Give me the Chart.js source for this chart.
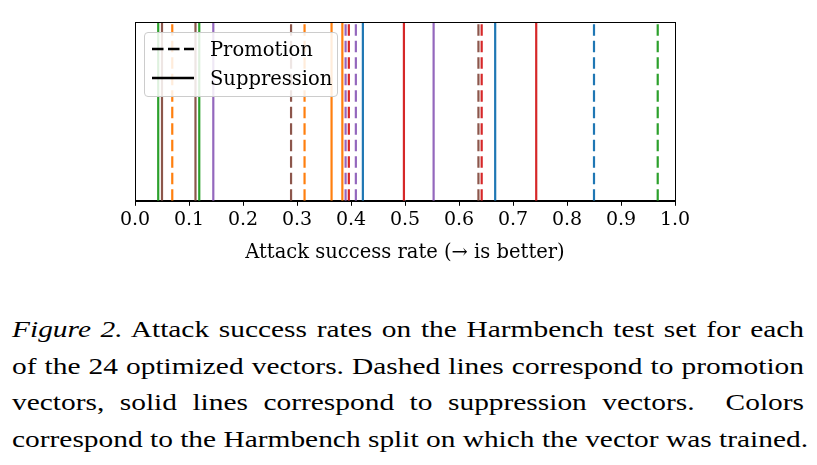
<!DOCTYPE html>
<html>
<head>
<meta charset="utf-8">
<script src="https://cdn.jsdelivr.net/npm/chart.js@4/dist/chart.umd.min.js"></script>
<style>
  html, body { margin: 0; padding: 0; background: #fff; }
  body { width: 817px; height: 465px; position: relative; overflow: hidden; }
  #chartBox { position: absolute; left: 0; top: 0; width: 817px; height: 267px; }
  #legend {
    position: absolute; left: 144px; top: 32px; width: 192px; height: 63px;
    border: 1px solid #cccccc; border-radius: 4px; background: rgba(255,255,255,0.85);
    font-family: "DejaVu Serif", serif; font-size: 19.5px; color: #000;
  }
  #legend .row { position: absolute; left: 7px; height: 26px; display: flex; align-items: center; }
  #legend .row span { margin-left: 16px; white-space: nowrap; }
  #caption {
    position: absolute; left: 12px; top: 311px; transform-origin: 0 0;
    font-family: "Liberation Serif", "Times New Roman", serif; font-size: 24px;
    line-height: 36.7px; color: #000;
  }
  #caption .ln { white-space: nowrap; }
  #caption .j { text-align: justify; text-align-last: justify; white-space: normal; }
</style>
</head>
<body>
<div id="chartBox"><canvas id="c"></canvas></div>
<div id="legend">
  <div class="row" style="top:3px"><svg width="42" height="6"><line x1="0" y1="3" x2="42" y2="3" stroke="#000" stroke-width="2.6" stroke-dasharray="11.5 4.5"/></svg><span>Promotion</span></div>
  <div class="row" style="top:32px"><svg width="42" height="6"><line x1="0" y1="3" x2="42" y2="3" stroke="#000" stroke-width="2.6"/></svg><span>Suppression</span></div>
</div>
<div id="caption">
  <div class="ln j"><i>Figure 2.</i> Attack success rates on the Harmbench test set for each</div>
  <div class="ln j">of the 24 optimized vectors. Dashed lines correspond to promotion</div>
  <div class="ln j">vectors, solid lines correspond to suppression vectors.&nbsp; Colors</div>
  <div class="ln" id="lastLine">correspond to the Harmbench split on which the vector was trained.</div>
</div>
<script>
// Harmbench split colour palette (tab10 order)
const splitColors = ['#1f77b4', '#ff7f0e', '#2ca02c', '#d62728', '#9467bd', '#8c564b'];

// Promotion vectors (dashed lines): attack success rate and split index
const promotionValues = [0.069, 0.289, 0.314, 0.390, 0.396, 0.409, 0.636, 0.642, 0.850, 0.968];
const promotionSplits = [1, 5, 1, 4, 3, 4, 5, 3, 0, 2];

// Suppression vectors (solid lines)
const suppressionValues = [0.043, 0.050, 0.112, 0.119, 0.145, 0.364, 0.384, 0.422, 0.498, 0.553, 0.667, 0.743];
const suppressionSplits = [2, 5, 5, 2, 4, 1, 1, 0, 3, 4, 0, 3];

const xTicks = [0, 0.1, 0.2, 0.3, 0.4, 0.5, 0.6, 0.7, 0.8, 0.9, 1.0];
const xTitle = 'Attack success rate (\u2192 is better)';

// Fit caption: stretch horizontally so the last (natural) line spans the same width as in the figure
(function fitCaption() {
  const cap = document.getElementById('caption');
  const last = document.getElementById('lastLine');
  const natural = last.getBoundingClientRect().width;
  const target = 796;
  const s = target / natural;
  const innerW = 792 / s;
  cap.querySelectorAll('.j').forEach(d => { d.style.width = innerW + 'px'; });
  cap.style.transform = 'scaleX(' + s + ')';
})();

function makeLine(v, split, dashed) {
  return {
    type: 'line',
    data: [{x: v, y: 0}, {x: v, y: 1}],
    borderColor: splitColors[split],
    borderWidth: 2.2,
    borderDash: dashed ? [11.5, 5] : [],
    pointRadius: 0,
    fill: false,
    tension: 0
  };
}

const datasets = [];
suppressionValues.forEach((v, i) => datasets.push(makeLine(v, suppressionSplits[i], false)));
promotionValues.forEach((v, i) => datasets.push(makeLine(v, promotionSplits[i], true)));

const frame = {
  id: 'frame',
  afterDraw(chart) {
    const a = chart.chartArea, ctx = chart.ctx;
    ctx.save();
    ctx.strokeStyle = '#000';
    ctx.lineWidth = 1;
    ctx.strokeRect(Math.round(a.left) + 0.5, Math.round(a.top) + 0.5,
                   Math.round(a.right - a.left), Math.round(a.bottom - a.top));
    ctx.restore();
  }
};

new Chart(document.getElementById('c'), {
  type: 'line',
  data: { datasets },
  options: {
    responsive: true,
    maintainAspectRatio: false,
    animation: false,
    events: [],
    layout: { padding: { left: 135, right: 142, top: 22, bottom: 0 } },
    plugins: { legend: { display: false }, tooltip: { enabled: false } },
    scales: {
      x: {
        type: 'linear', min: 0, max: 1,
        afterBuildTicks(scale) { scale.ticks = xTicks.map(v => ({ value: v })); },
        ticks: {
          color: '#000', padding: 3, maxRotation: 0, autoSkip: false,
          font: { family: 'DejaVu Serif', size: 19 },
          callback: v => Number(v).toFixed(1)
        },
        grid: { drawOnChartArea: false, drawTicks: true, tickLength: 5, color: '#000', lineWidth: 1 },
        border: { display: true, color: '#000', width: 1 },
        title: {
          display: true, text: xTitle, color: '#000',
          font: { family: 'DejaVu Serif', size: 19.5 }, padding: { top: 7, bottom: 2 }
        }
      },
      y: { type: 'linear', min: 0, max: 1, display: false }
    }
  },
  plugins: [frame]
});
</script>
</body>
</html>
